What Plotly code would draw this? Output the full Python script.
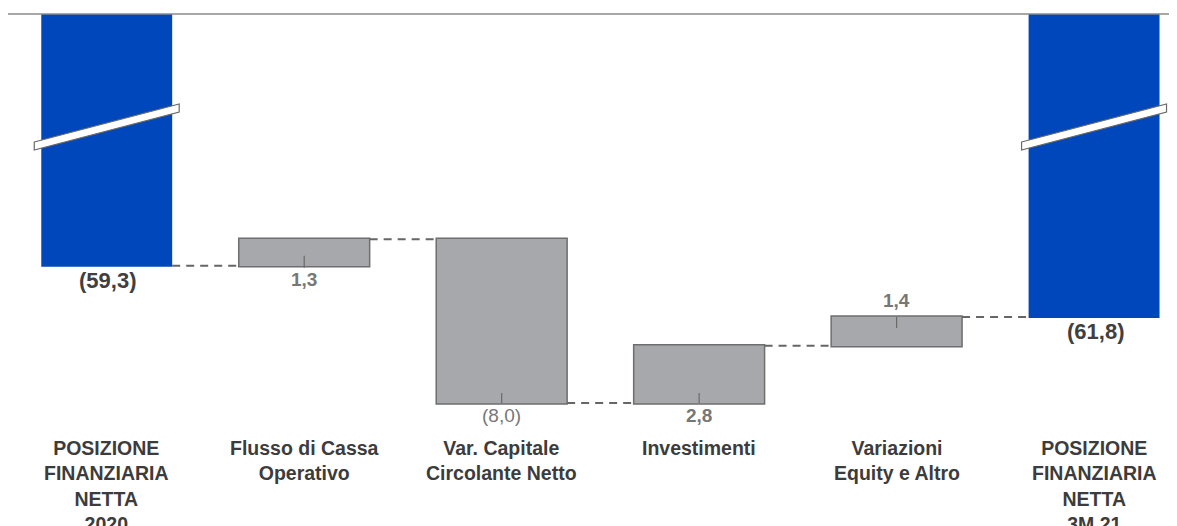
import plotly.graph_objects as go

categories = ["PFN 2020", "Flusso di Cassa Operativo", "Var. Capitale Circolante Netto",
              "Investimenti", "Variazioni Equity e Altro", "PFN 3M 21"]
tick_labels = ["POSIZIONE<br>FINANZIARIA<br>NETTA<br>2020",
               "Flusso di Cassa<br>Operativo",
               "Var. Capitale<br>Circolante Netto",
               "Investimenti",
               "Variazioni<br>Equity e Altro",
               "POSIZIONE<br>FINANZIARIA<br>NETTA<br>3M 21"]
values = [-59.3, 1.3, -8.0, 2.8, 1.4, -61.8]
measures = ["absolute", "relative", "relative", "relative", "relative", "total"]
value_text = ["(59,3)", "1,3", "(8,0)", "2,8", "1,4", "(61,8)"]

BLUE = "#0047BB"
GRAY = "#A7A8AB"
EDGE = "#6E6E6E"
FONT = "Arial, Liberation Sans, sans-serif"

fig = go.Figure()
fig.add_trace(go.Waterfall(
    x=categories, y=values, measure=measures,
    base=0,
    textinfo="none", hoverinfo="skip",
    increasing=dict(marker=dict(color=GRAY, line=dict(color=EDGE, width=1.5))),
    decreasing=dict(marker=dict(color=GRAY, line=dict(color=EDGE, width=1.5))),
    totals=dict(marker=dict(color=BLUE, line=dict(color=BLUE, width=0))),
    connector=dict(mode="between", line=dict(color="#666666", width=2, dash="8px,6px")),
    showlegend=False,
))

# running levels (from data) for labels
levels = []
run = 0.0
for v, m in zip(values, measures):
    if m == "absolute":
        start, end = 0.0, v
        run = v
    elif m == "relative":
        start, end = run, run + v
        run = run + v
    else:
        start, end = 0.0, run
    levels.append((start, end))

annotations = []
shapes = []
for i, (cat, txt, (s, e), m) in enumerate(zip(categories, value_text, levels, measures)):
    if m in ("absolute", "total"):
        annotations.append(dict(x=cat, y=e, text="<b>" + txt + "</b>", showarrow=False,
                                yanchor="middle", yshift=-15, xshift=1,
                                font=dict(family=FONT, size=22, color="#404040")))
    else:
        if i == 4:
            yref_val = max(s, e)
            shift = 16
            leader = (0, -11)
        elif i in (2, 3):
            yref_val = min(s, e)
            shift = -13
            leader = (0, 10)
        else:
            yref_val = min(s, e)
            shift = -14
            leader = (-2, 10)
        label = "<b>" + txt + "</b>" if i != 2 else txt
        annotations.append(dict(x=cat, y=yref_val, text=label, showarrow=False, yanchor="middle",
                                yshift=shift, font=dict(family=FONT, size=19, color="#777777")))
        shapes.append(dict(type="line", xref="x", yref="y", xsizemode="scaled",
                           ysizemode="pixel", yanchor=yref_val, x0=i, x1=i,
                           y0=leader[0], y1=leader[1],
                           line=dict(color="#6A6A6A", width=1.2), layer="above"))
    annotations.append(dict(x=cat, y=0, yref="paper", text="<b>" + tick_labels[i] + "</b>",
                            showarrow=False, yanchor="top", yshift=-5,
                            font=dict(family=FONT, size=19.5, color="#3C3C3C")))

# break marks on total bars
for i, m in enumerate(measures):
    if m in ("absolute", "total"):
        x0, x1 = i - 0.367, i + 0.367
        path = f"M {x0},0.6923 L {x1},0.7837 L {x1},0.7644 L {x0},0.6731 Z"
        shapes.append(dict(type="path", xref="x", yref="paper", path=path,
                           fillcolor="white", line=dict(color="#6A6A6A", width=1.2), layer="above"))

# top axis line
shapes.append(dict(type="line", xref="paper", yref="paper", x0=0, x1=1, y0=1, y1=1,
                   line=dict(color="#8A8A8A", width=1.5), layer="above"))

fig.update_layout(
    width=1169, height=518,
    margin=dict(l=0, r=0, t=6, b=96),
    paper_bgcolor="white", plot_bgcolor="white",
    waterfallgap=0.337,
    xaxis=dict(type="category", range=[-0.5, 5.42], showticklabels=False, showgrid=False,
               zeroline=False, showline=False, ticks=""),
    yaxis=dict(range=[-67.32, -47.0], showticklabels=False, showgrid=False,
               zeroline=False, showline=False, ticks=""),
    annotations=annotations,
    shapes=shapes,
    font=dict(family=FONT),
)

fig.write_html("out.html")
